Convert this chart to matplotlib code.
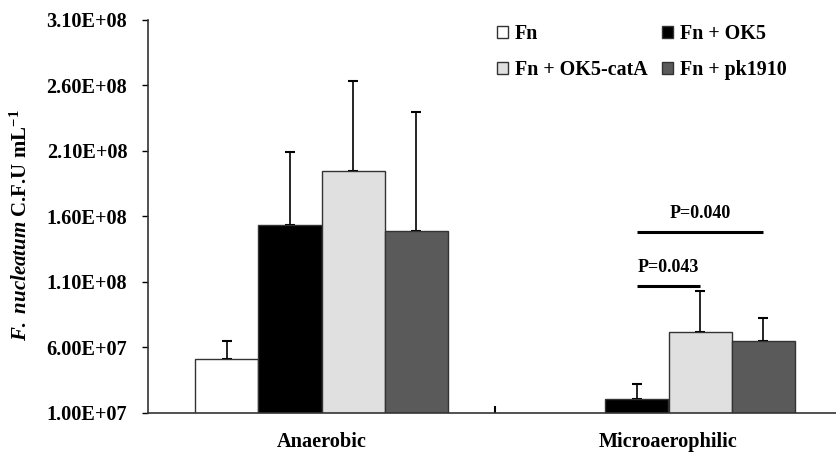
import numpy as np
import matplotlib
matplotlib.use('Agg')
import matplotlib.pyplot as plt
from matplotlib.patches import Patch

plt.rcParams['font.family'] = 'Liberation Serif'
plt.rcParams['font.weight'] = 'bold'
plt.rcParams['mathtext.fontset'] = 'custom'
plt.rcParams['mathtext.rm'] = 'Liberation Serif:bold'
plt.rcParams['mathtext.it'] = 'Liberation Serif:italic:bold'
plt.rcParams['mathtext.bf'] = 'Liberation Serif:bold'

# datos
condiciones = ['Anaerobic', 'Microaerophilic']
grupos = ['Fn', 'Fn + OK5', 'Fn + OK5-catA', 'Fn + pk1910']
colores = ['#ffffff', '#000000', '#e0e0e0', '#5a5a5a']

medias = {
    'Fn': [5.15e7, 0.0],
    'Fn + OK5': [1.537e8, 2.04e7],
    'Fn + OK5-catA': [1.945e8, 7.18e7],
    'Fn + pk1910': [1.488e8, 6.52e7],
}
errores = {
    'Fn': [1.37e7, 0.0],
    'Fn + OK5': [5.5e7, 1.17e7],
    'Fn + OK5-catA': [6.85e7, 3.15e7],
    'Fn + pk1910': [9.1e7, 1.76e7],
}

# comparaciones (condicion, grupo1, grupo2, altura, texto)
comparaciones = [
    (1, 1, 2, 1.066e8, 'P=0.043'),
    (1, 1, 3, 1.478e8, 'P=0.040'),
]

yticks = [1.0e7, 6.0e7, 1.1e8, 1.6e8, 2.1e8, 2.6e8, 3.1e8]
ytick_labels = ['1.00E+07', '6.00E+07', '1.10E+08', '1.60E+08', '2.10E+08', '2.60E+08', '3.10E+08']

fig = plt.figure(figsize=(8.37, 4.54), dpi=100)
ax = fig.add_axes([148 / 837, 41 / 454, 694 / 837, 393.4 / 454])

ancho = 0.1825
x = np.arange(len(condiciones))
for i, g in enumerate(grupos):
    pos = x + (i - 1.5) * ancho
    ax.bar(pos, medias[g], width=ancho, color=colores[i], edgecolor='#333333',
           linewidth=1.0, zorder=2)
    err = np.array(errores[g])
    mask = err > 0
    ax.errorbar(pos[mask], np.array(medias[g])[mask], yerr=[np.zeros(mask.sum()), err[mask]],
                fmt='none', ecolor='black', elinewidth=1.2, capsize=3.3, capthick=1.5, zorder=1)

for c, g1, g2, h, txt in comparaciones:
    x1 = c + (g1 - 1.5) * ancho
    x2 = c + (g2 - 1.5) * ancho
    ax.plot([x1, x2], [h, h], color='black', lw=2.2, solid_capstyle='butt', zorder=3)
    ax.text((x1 + x2) / 2, h + 0.75e7, txt, ha='center', va='bottom', fontsize=13,
            fontweight='bold')

ax.set_xlim(-0.5, 1.5)
ax.set_ylim(1.0e7, 3.1e8)
ax.set_yticks(yticks)
ax.set_yticklabels(ytick_labels, fontsize=14.6, fontweight='bold')
ax.set_xticks([0.5], minor=True)
ax.set_xticks(x)
ax.set_xticklabels(condiciones, fontsize=14.6, fontweight='bold')
ax.tick_params(axis='x', which='major', length=0, pad=14)
ax.tick_params(axis='x', which='minor', direction='in', length=5, width=1.5)
ax.tick_params(axis='y', direction='out', length=4, width=1, pad=11)

for s in ['top', 'right']:
    ax.spines[s].set_visible(False)
for s in ['left', 'bottom']:
    ax.spines[s].set_color('#333333')
    ax.spines[s].set_linewidth(1.2)

fig.text(21 / 837, 1 - 225 / 454, r'$\it{F.\ nucleatum}$ C.F.U mL$^{-1}$', fontsize=15,
         fontweight='bold', rotation=90, ha='center', va='center')

orden = [0, 2, 1, 3]
handles = [Patch(facecolor=colores[i], edgecolor='#333333', linewidth=1.0) for i in orden]
etiquetas = [grupos[i] for i in orden]
fig.legend(handles, etiquetas, loc='upper left', bbox_to_anchor=(497 / 837, 1 - 24 / 454),
           ncol=2, frameon=False, handlelength=0.55, handleheight=0.55,
           handletextpad=0.35, columnspacing=0.7, labelspacing=0.8, borderpad=0,
           borderaxespad=0, prop={'weight': 'bold', 'size': 14.4})

fig.savefig('out.png', dpi=100)
